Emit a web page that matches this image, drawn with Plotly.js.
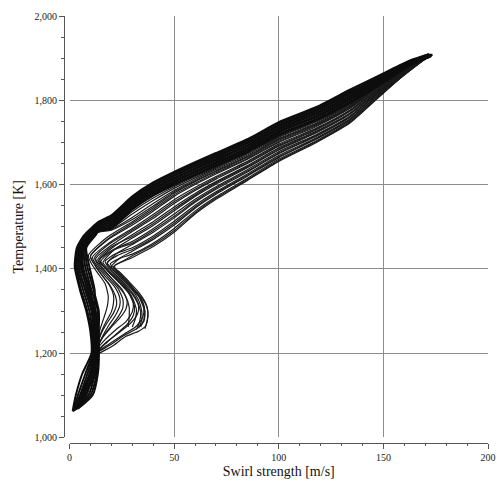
<!DOCTYPE html>
<html><head><meta charset="utf-8">
<script src="https://cdn.plot.ly/plotly-3.0.1.min.js"></script>
<style>html,body{margin:0;padding:0;background:#fff}#chart{width:497px;height:482px}</style>
</head><body><div id="chart"></div>
<script>
// Tick values
const swirlTicks = [0, 50, 100, 150, 200];
const tempTicks = [1000, 1200, 1400, 1600, 1800, 2000];

// Core streamlines (dense dark band): swirl strength [m/s]
const coreSwirl = [
  [1.5,3,6,10.5,10,8,5,2.5,3.5,7, 14,20,30,40,50,60,70,86,100,118,134,150,163,172],
  [2,4,7.5,11,10.5,8.5,5.5,3,4,7.5, 14,20,30,40,50,60,70,86,100,118,134,150,163,173],
  [2.5,5,8.5,11.5,11,9.5,6.5,3.5,4.5,8.5, 14,20,30,40,50,60,70,86,100,118,134,150,163,171.5],
  [3,6.5,10,12,11.5,10.5,7.5,4.5,5,9, 14,20,30,40,50,60,70,86,100,118,134,150,163,173.5],
  [3.5,8,11,12.5,12.5,11.5,8.5,5.5,5.5,10, 14,20,30,40,50,60,70,86,100,118,134,150,163,172],
  [2,9,12,13,13,12.5,9.5,6.5,6.5,11, 14,20,30,40,50,60,70,86,100,118,134,150,163,172.5],
  [1.5,10,13,13.5,13.5,13.5,10.5,7.5,7,11.5, 14,20,30,40,50,60,70,86,100,118,134,150,163,171],
  [3,7,12.5,14,14,14,11.5,8.5,7.5,12, 14,20,30,40,50,60,70,86,100,118,134,150,163,173],
  [2,5.5,9.5,12,12,12,12,9.5,8,12.5, 14,20,30,40,50,60,70,86,100,118,134,150,163,172],
  [4,11,13.5,14,13,11,10,6,6,11, 14,20,30,40,50,60,70,86,100,118,134,150,163,172.5]
];
// Core streamlines: temperature [K]
const coreTemp = [
  [1063,1100,1150,1200,1250,1300,1350,1405,1450,1480, 1512,1527,1572,1605,1630,1653,1675,1710,1748,1784,1825,1864,1895,1910],
  [1065,1100,1150,1200,1250,1300,1350,1405,1450,1480, 1510,1524,1569,1602,1627,1650,1672,1707,1745,1781,1822,1862,1894,1909],
  [1066,1100,1150,1200,1250,1300,1350,1405,1450,1480, 1507,1520,1565,1598,1623,1646,1668,1703,1741,1777,1818,1859,1892,1909],
  [1067,1100,1150,1200,1250,1300,1350,1405,1450,1480, 1505,1517,1562,1595,1620,1643,1665,1700,1738,1774,1815,1857,1891,1908],
  [1068,1100,1150,1200,1250,1300,1350,1405,1450,1480, 1502,1513,1558,1591,1616,1639,1661,1696,1734,1770,1811,1854,1889,1907],
  [1064,1100,1150,1200,1250,1300,1350,1405,1450,1480, 1500,1510,1555,1588,1613,1636,1658,1693,1731,1767,1808,1852,1888,1907],
  [1062,1100,1150,1200,1250,1300,1350,1405,1450,1480, 1497,1506,1551,1584,1609,1632,1654,1689,1727,1763,1804,1849,1887,1906],
  [1066,1100,1150,1200,1250,1300,1350,1405,1450,1480, 1495,1503,1548,1581,1606,1629,1651,1686,1724,1760,1801,1847,1885,1905],
  [1063,1100,1150,1200,1250,1300,1350,1405,1450,1480, 1492,1499,1544,1577,1602,1625,1647,1682,1720,1756,1797,1844,1884,1904],
  [1068,1100,1150,1200,1250,1300,1350,1405,1450,1480, 1490,1496,1541,1574,1599,1622,1644,1679,1717,1753,1794,1842,1883,1904]
];

// Middle streamlines (just under the dark band): swirl strength [m/s]
const midSwirl = [
  [2.5,6,10,12.5,13,11,8,4,5,9, 14,20,30,40,50,60,70,85,100,118,134,148,158,168,172],
  [3,7,11,13,13.5,12,9,5,5.5,10, 14,20,30,40,50,60,70,85,100,118,134,148,158,168,172],
  [2,5.5,9.5,12,12.5,10.5,7.5,3.5,4.5,8.5, 14,20,30,40,50,60,70,85,100,118,134,148,158,168,172],
  [3.5,7.5,11.5,13.5,14,12.5,9.5,5.5,6,10.5, 14,20,30,40,50,60,70,85,100,118,134,148,158,168,172]
];
// Middle streamlines: temperature [K]
const midTemp = [
  [1064,1100,1150,1200,1250,1300,1350,1405,1450,1475, 1488,1494,1522,1555,1586,1612,1636,1670,1709,1746,1788,1836,1866,1897,1907],
  [1066,1100,1150,1200,1250,1300,1350,1405,1450,1475, 1489,1496,1530,1562,1591,1616,1639,1673,1712,1749,1790,1838,1868,1898,1907],
  [1063,1100,1150,1200,1250,1300,1350,1405,1450,1475, 1490,1498,1536,1568,1595,1619,1641,1676,1714,1751,1792,1840,1870,1899,1906],
  [1067,1100,1150,1200,1250,1300,1350,1405,1450,1475, 1487,1492,1517,1549,1583,1609,1633,1667,1707,1744,1786,1835,1865,1897,1907]
];

// Bulge streamlines (swing out to ~37 m/s near 1,300 K): swirl strength [m/s]
const bulgeSwirl = [
  [36,37,37.5,36.5,33,28,24,21,30,40,50,60,70,85,100,118,134,148,158,168,172],
  [34,35.5,36,34.5,31,26,21.5,19.5,24,30,40,50,60,70,85,100,118,134,148,158,168,172],
  [2.5,6.5,10.5,13,20,27,33,36.5,37.5,37,34,30,25,20,24,30,40,50,60,70,85,100,118,134,148,158,168,172],
  [32,33.5,34,32,28,23,18.5,17,22,30,40,50,60,70,85,100,118,134,148,158,168,172],
  [2,6,10,13,19,26,31.5,35,35.5,33,28,22,18,23,30,40,50,60,70,85,100,118,134,148,158,168,172],
  [30,31.5,32,30,26,20.5,16,14.5,21,30,40,50,60,70,85,100,118,134,148,158,168,172],
  [3,7,11,13.5,18,24,29,32.5,33,30,25,19,16,22,30,40,50,60,70,85,100,118,134,148,158,168,172],
  [1.5,5,9.5,12.5,17,22,27,30,30.5,28,23,17.5,14,21,30,40,50,60,70,85,100,118,134,148,158,168,172],
  [2,6,10.5,13,16,20,24,27,27.5,25,20,15,12.5,20,30,40,50,60,70,85,100,118,134,148,158,168,172],
  [3,7.5,11.5,13.5,16,19,22,24,24,21.5,17,13,11,19,30,40,50,60,70,85,100,118,134,148,158,168,172],
  [2.5,6.5,11,13,15,17.5,20,21,21,19,15,12,10,18,30,40,50,60,70,85,100,118,134,148,158,168,172],
  [1.5,5.5,10,13,14.5,16.5,18,18.5,17,13.5,10.5,9,18,30,40,50,60,70,85,100,118,134,148,158,168,172],
  [2,5.5,9.5,12.5,19,26,32,35.5,36,35,31.5,27,22,21.5,26,30,40,50,60,70,85,100,118,134,148,158,168,172],
  [33,34.5,34.5,33,29.5,24.5,20,18,23,30,40,50,60,70,85,100,118,134,148,158,168,172],
  [3,7,11,13.5,18,23,27.5,30.5,31,29,24,18,15,21,30,40,50,60,70,85,100,118,134,148,158,168,172],
  [28,28.5,28.5,26.5,22,17,13.5,20,30,40,50,60,70,85,100,118,134,148,158,168,172],
  [2.5,6.5,10.5,13,16,20,23.5,25.5,25.5,23,18.5,14,12,19,30,40,50,60,70,85,100,118,134,148,158,168,172],
  [2,6,10.5,13,15,18,21,22.5,22,19.5,15.5,12,10,18,30,40,50,60,70,85,100,118,134,148,158,168,172]
];
// Bulge streamlines: temperature [K]
const bulgeTemp = [
  [1258,1275,1295,1318,1345,1372,1392,1405,1427,1453,1487,1530,1565,1610,1655,1700,1746,1808,1852,1891,1905],
  [1262,1280,1300,1325,1350,1376,1400,1412,1425,1435,1461,1496,1537,1571,1615,1660,1704,1750,1810,1853,1891,1905],
  [1065,1100,1150,1195,1215,1240,1252,1265,1290,1310,1335,1355,1382,1404,1425,1442,1470,1504,1544,1577,1620,1664,1708,1753,1813,1854,1892,1905],
  [1256,1275,1298,1328,1356,1382,1405,1418,1436,1450,1478,1513,1551,1583,1625,1669,1711,1756,1815,1855,1892,1906],
  [1064,1100,1150,1200,1222,1245,1262,1285,1305,1335,1362,1392,1412,1438,1458,1487,1521,1558,1589,1630,1673,1715,1760,1818,1856,1893,1906],
  [1262,1282,1303,1332,1360,1387,1408,1422,1446,1465,1495,1530,1565,1595,1635,1678,1719,1763,1820,1857,1893,1906],
  [1066,1100,1150,1205,1228,1250,1270,1293,1312,1340,1368,1398,1415,1448,1473,1503,1538,1572,1601,1640,1682,1723,1767,1822,1858,1894,1906],
  [1062,1100,1150,1205,1232,1255,1275,1298,1318,1345,1372,1400,1420,1452,1481,1512,1547,1579,1607,1645,1687,1727,1770,1825,1859,1894,1906],
  [1064,1100,1150,1210,1238,1262,1283,1305,1325,1352,1378,1405,1424,1456,1489,1520,1555,1586,1613,1650,1691,1730,1774,1827,1860,1895,1907],
  [1067,1100,1150,1212,1242,1268,1290,1312,1332,1358,1383,1408,1428,1462,1496,1529,1564,1593,1619,1655,1696,1734,1777,1830,1861,1895,1907],
  [1065,1100,1150,1215,1248,1275,1298,1318,1338,1362,1388,1410,1430,1468,1504,1537,1572,1600,1625,1660,1700,1738,1781,1832,1862,1896,1907],
  [1063,1100,1150,1218,1255,1285,1310,1335,1365,1390,1412,1432,1475,1512,1545,1580,1607,1631,1665,1705,1742,1784,1834,1863,1896,1907],
  [1064,1100,1150,1198,1218,1242,1258,1275,1298,1322,1348,1375,1400,1408,1420,1431,1457,1491,1533,1568,1612,1657,1702,1748,1809,1852,1891,1905],
  [1259,1278,1300,1326,1353,1379,1402,1415,1432,1446,1474,1508,1547,1580,1622,1666,1709,1754,1814,1854,1892,1905],
  [1066,1100,1150,1204,1226,1248,1268,1290,1312,1338,1366,1396,1418,1444,1461,1491,1525,1561,1592,1632,1675,1717,1761,1819,1856,1893,1906],
  [1262,1285,1310,1338,1366,1395,1422,1452,1477,1507,1542,1575,1604,1642,1684,1725,1768,1823,1858,1894,1906],
  [1065,1100,1150,1210,1240,1265,1288,1308,1328,1355,1380,1406,1426,1459,1492,1524,1559,1589,1616,1652,1693,1732,1775,1828,1860,1895,1907],
  [1064,1100,1150,1214,1245,1272,1295,1315,1335,1360,1385,1410,1430,1470,1508,1541,1576,1603,1628,1662,1702,1740,1782,1833,1862,1896,1907]
];

const coreStyle = {color: '#0d0d0d', width: 2.0, shape: 'spline', smoothing: 0.6};
const thinStyle = {color: '#1a1a1a', width: 1.2, shape: 'spline', smoothing: 0.6};
const traces = [];
bulgeSwirl.forEach((xs, i) => traces.push({type: 'scatter', mode: 'lines', x: xs, y: bulgeTemp[i], line: thinStyle, hoverinfo: 'skip'}));
midSwirl.forEach((xs, i) => traces.push({type: 'scatter', mode: 'lines', x: xs, y: midTemp[i], line: thinStyle, hoverinfo: 'skip'}));
coreSwirl.forEach((xs, i) => traces.push({type: 'scatter', mode: 'lines', x: xs, y: coreTemp[i], line: coreStyle, hoverinfo: 'skip'}));

const tickFont = {family: 'Liberation Serif, Times New Roman, serif', size: 10, color: '#222'};
const titleFont = {family: 'Liberation Serif, Times New Roman, serif', size: 14, color: '#111'};
const axisCommon = {
  showline: true, linecolor: '#555', linewidth: 1,
  ticks: 'outside', ticklen: 5, tickcolor: '#555', tickwidth: 1,
  showgrid: true, gridcolor: '#8c8c8c', gridwidth: 1, zeroline: false,
  tickfont: tickFont, automargin: false, fixedrange: true
};

const layout = {
  width: 497, height: 482,
  margin: {l: 64, r: 9, t: 16, b: 39},
  paper_bgcolor: '#fff', plot_bgcolor: '#fff',
  showlegend: false,
  xaxis: Object.assign({}, axisCommon, {
    range: [0, 200], domain: [0.013, 1], anchor: 'free', position: 0,
    tickvals: swirlTicks, ticktext: swirlTicks.map(String),
    minor: {dtick: 10, ticks: 'outside', ticklen: 2, tickcolor: '#555', showgrid: false},
    title: {text: 'Swirl strength [m/s]', font: titleFont, standoff: 4}
  }),
  yaxis: Object.assign({}, axisCommon, {
    range: [1000, 2000], domain: [0.013, 1], anchor: 'free', position: 0,
    tickvals: tempTicks, ticktext: tempTicks.map(v => v.toLocaleString('en-US')),
    minor: {dtick: 50, ticks: 'outside', ticklen: 3, tickcolor: '#555', showgrid: false},
    title: {text: 'Temperature [K]', font: titleFont, standoff: 6}
  })
};

Plotly.newPlot('chart', traces, layout, {displayModeBar: false, staticPlot: true});
</script></body></html>
